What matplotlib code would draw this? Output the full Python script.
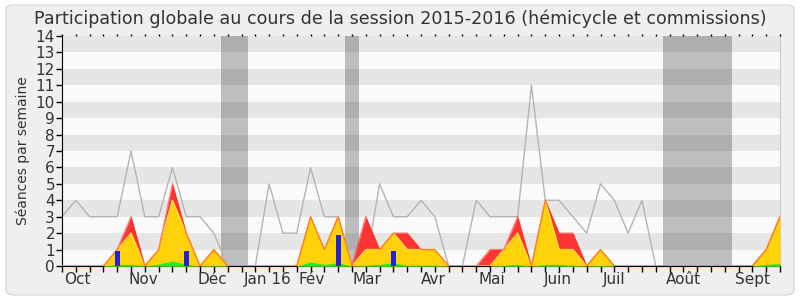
import matplotlib.pyplot as plt
import numpy as np
from matplotlib.patches import FancyBboxPatch

# weekly values, session 2015-2016 (53 weeks)
median = [3, 4, 3, 3, 3, 7, 3, 3, 6, 3, 3, 2, 0, 0, 0, 5, 2, 2, 6, 3,
          3, 0, 0, 5, 3, 3, 4, 3, 0, 0, 4, 3, 3, 3, 11, 4, 4, 3, 2, 5,
          4, 2, 4, 0, 0, 0, 0, 0, 0, 0, 0, 1, 3]
hemicycle = [0, 0, 0, 0, 1, 3, 0, 1, 5, 2, 0, 1, 0, 0, 0, 0, 0, 0, 3, 1,
             3, 0, 3, 1, 2, 2, 1, 1, 0, 0, 0, 1, 1, 3, 0, 4, 2, 2, 0, 1,
             0, 0, 0, 0, 0, 0, 0, 0, 0, 0, 0, 1, 3]
commission = [0, 0, 0, 0, 1, 2, 0, 1, 4, 2, 0, 1, 0, 0, 0, 0, 0, 0, 3, 1,
              3, 0, 1, 1, 2, 1, 1, 1, 0, 0, 0, 0, 1, 2, 0, 4, 1, 1, 0, 1,
              0, 0, 0, 0, 0, 0, 0, 0, 0, 0, 0, 1, 3]
interventions = [0, 0, 0, 0, .1, .1, 0, .12, .3, .1, 0, .05, 0, 0, 0, 0, 0, 0, .25, .1,
                 .2, 0, .05, .1, .2, .05, .05, .05, 0, 0, 0, 0, .05, .1, 0, .1, .1, .05, 0, .05,
                 0, 0, 0, 0, 0, 0, 0, 0, 0, 0, 0, .1, .15]
question_weeks = [4, 9, 20, 24]
question_values = [0.9, 0.9, 1.9, 0.9]
vacances = [(11.5, 13.5), (20.5, 21.5), (43.5, 48.5)]
month_labels = ['Oct', 'Nov', 'Déc', 'Jan 16', 'Fév', 'Mar', 'Avr', 'Mai',
                'Juin', 'Juil', 'Août', 'Sept']
month_pos = [1.1, 5.9, 10.9, 14.9, 18.1, 22.1, 26.9, 31.1, 35.9, 40.0, 45.0, 50.0]

weeks = np.arange(len(median))

fig = plt.figure(figsize=(8, 3), dpi=100, facecolor='white')
fig.patches.append(FancyBboxPatch((6 / 800, 5 / 300), 788 / 800, 290 / 300,
                                  boxstyle='round,pad=0,rounding_size=0.012',
                                  transform=fig.transFigure, facecolor='#efefef',
                                  edgecolor='#dadada', linewidth=1, zorder=-10))
ax = fig.add_axes([62 / 800, 34 / 300, 718 / 800, 230 / 300])
ax.set_facecolor('#fafafa')

# vacances parlementaires + bandes horizontales
for a, b in vacances:
    ax.axvspan(a, b, color='#bebebe', lw=0, zorder=0.5)
for k in range(1, 14, 2):
    ax.axhspan(k, k + 1, color='black', alpha=0.08, lw=0, zorder=0.6)

ax.plot(weeks, median, color='#b4b4b4', lw=1, zorder=1)
ax.fill_between(weeks, 0, hemicycle, color='#ff3535', lw=0, zorder=2)
ax.fill_between(weeks, 0, commission, color='#ffd20a', lw=0, zorder=3)
ax.plot(weeks, commission, color='#ffe040', lw=1, zorder=3.5)
ax.plot(weeks, hemicycle, color='#ff1a00', lw=1, alpha=0.5, zorder=4)
ax.fill_between(weeks, 0, interventions, color='#22ee22', lw=0, zorder=5)
ax.bar(question_weeks, question_values, width=0.36, color='#2222dd', zorder=6)

ax.set_xlim(0, len(median) - 1)
ax.set_ylim(0, 14)
ax.set_yticks(range(15))
ax.set_xticks(weeks)
ax.set_xticklabels([])
ax.xaxis.remove_overlapping_locs = False
ax.set_xticks(month_pos, minor=True)
ax.set_xticklabels(month_labels, minor=True)
ax.tick_params(axis='x', which='minor', length=0, pad=4, labelsize=11, colors='#333333')
ax.tick_params(axis='x', which='major', length=4, width=1, direction='out')
ax.tick_params(axis='y', length=4, width=1, pad=1, labelsize=11, colors='#333333')
ax.tick_params(axis='both', color='black')
ax.spines['top'].set_visible(False)
ax.spines['right'].set_color('#cccccc')
ax.set_ylabel('Séances par semaine', fontsize=10, color='#333333', labelpad=4)

top = ax.twiny()
top.set_xlim(ax.get_xlim())
top.set_xticks(weeks)
top.set_xticklabels([])
top.tick_params(axis='x', length=1.5, width=1, direction='out', color='black')
for s in top.spines.values():
    s.set_visible(False)

fig.text(0.5, 0.937, 'Participation globale au cours de la session 2015-2016 (hémicycle et commissions)',
         ha='center', va='center', fontsize=12.6, color='#333333')

plt.savefig('out.png', dpi=100, facecolor=fig.get_facecolor())
